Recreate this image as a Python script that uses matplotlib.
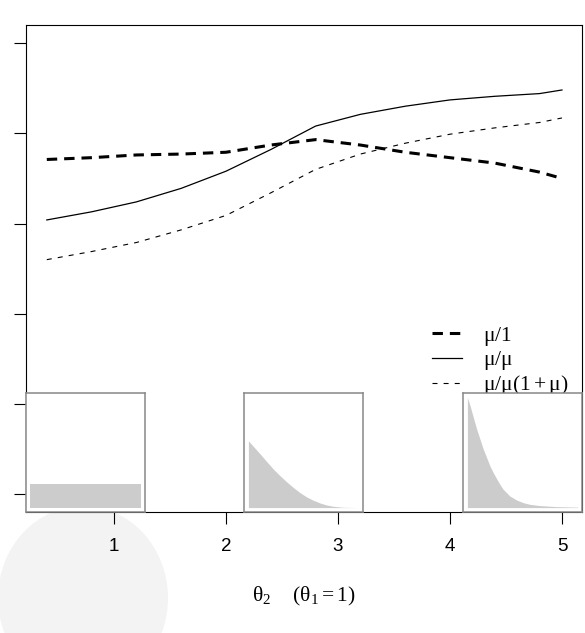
import matplotlib
matplotlib.use("Agg")
import matplotlib.pyplot as plt
from matplotlib.lines import Line2D
from matplotlib.patches import Circle

# ---------------- data ----------------
theta2 = [0.4, 0.8, 1.2, 1.6, 2.0, 2.4, 2.8, 3.2, 3.6, 4.0, 4.4, 4.8, 5.0]
mu_over_1 = [3.71, 3.73, 3.76, 3.77, 3.79, 3.87, 3.93, 3.87, 3.79, 3.73, 3.67, 3.57, 3.50]
mu_over_mu = [3.04, 3.13, 3.24, 3.39, 3.58, 3.82, 4.08, 4.21, 4.30, 4.37, 4.41, 4.44, 4.48]
mu_over_mu1mu = [2.60, 2.69, 2.79, 2.93, 3.09, 3.34, 3.60, 3.77, 3.89, 3.99, 4.06, 4.12, 4.17]

labels = [r'$\mu/1$', r'$\mu/\mu$', r'$\mu/\mu(1+\mu)$']
xticks = [1, 2, 3, 4, 5]
yticks = [0, 1, 2, 3, 4, 5]

# inset densities (normalised support 0..1)
inset1_t = [0.0, 1.0]
inset1_h = [0.21, 0.21]
inset2_t = [0.0, 0.048, 0.108, 0.168, 0.228, 0.288, 0.348, 0.408, 0.468, 0.528,
            0.588, 0.649, 0.708, 0.768, 0.859, 0.949, 1.0]
inset2_h = [0.606, 0.552, 0.485, 0.415, 0.348, 0.288, 0.233, 0.182, 0.136, 0.097,
            0.067, 0.042, 0.024, 0.012, 0.003, 0.001, 0.0]
inset3_t = [0.0, 0.024, 0.054, 0.084, 0.114, 0.144, 0.174, 0.204, 0.234, 0.264,
            0.294, 0.324, 0.384, 0.444, 0.505, 0.565, 0.649, 0.802, 1.0]
inset3_h = [1.0, 0.925, 0.818, 0.712, 0.621, 0.53, 0.455, 0.379, 0.318, 0.264,
            0.212, 0.167, 0.106, 0.07, 0.045, 0.03, 0.019, 0.009, 0.004]

# ---------------- style ----------------
plt.rcParams['lines.scale_dashes'] = False
plt.rcParams['mathtext.fontset'] = 'custom'
plt.rcParams['mathtext.rm'] = 'Liberation Serif'
plt.rcParams['mathtext.it'] = 'Liberation Serif'
plt.rcParams['mathtext.bf'] = 'Liberation Serif:bold'
plt.rcParams['font.family'] = ['Liberation Sans', 'DejaVu Sans']

W, H = 585, 633
fig = plt.figure(figsize=(W / 100, H / 100), dpi=100)

def px_rect(x0, y0, x1, y1):
    return [x0 / W, 1 - y1 / H, (x1 - x0) / W, (y1 - y0) / H]

# faint watermark, behind everything
fig.patches.append(Circle((83 / W, 1 - 598 / H), 85 / W, transform=fig.transFigure,
                          facecolor='#f3f3f3', edgecolor='none', zorder=-5))

ax = fig.add_axes(px_rect(26, 25, 582, 512))
ax.patch.set_alpha(0)
ax.plot(theta2, mu_over_1, color='black', lw=2.2, linestyle=(0, (7.5, 5.0)))
ax.plot(theta2, mu_over_mu, color='black', lw=0.9, linestyle='-')
ax.plot(theta2, mu_over_mu1mu, color='black', lw=0.8, linestyle=(0, (3.6, 4.4)))

ax.set_xlim(0.2143, 5.179)
ax.set_ylim(-0.196, 5.2)
ax.set_xticks(xticks)
ax.set_xticklabels([str(v) for v in xticks])
ax.set_yticks(yticks)
ax.set_yticklabels([])
ax.tick_params(axis='both', length=8.5, width=0.8, color='black')
ax.tick_params(axis='x', labelsize=13.5, pad=10)
for s in ax.spines.values():
    s.set_linewidth(0.8)
    s.set_color('black')

ax.set_xlabel(r'$\theta_2\quad\ (\theta_1 = 1)$', fontsize=15.5)
ax.xaxis.set_label_coords(0.5, (512 - 596) / 487)
ax.xaxis.label.set_va('center')

handles = [Line2D([], [], color='black', lw=2.2, linestyle=(0, (7.5, 5.0))),
           Line2D([], [], color='black', lw=0.9, linestyle='-'),
           Line2D([], [], color='black', lw=0.8, linestyle=(0, (3.6, 4.4)))]
leg = ax.legend(handles, labels, loc='upper left',
                bbox_to_anchor=(432 / W, 1 - 325 / H), bbox_transform=fig.transFigure,
                frameon=False, fontsize=15.5, handlelength=1.4, handletextpad=0.95,
                labelspacing=0.05, borderpad=0, borderaxespad=0)

# insets
def add_inset(x0, x1, t, h):
    ia = fig.add_axes(px_rect(x0, 393, x1, 512))
    ia.fill_between(t, 0, h, color='#cccccc', linewidth=0)
    ia.set_xlim(-0.04, 1.04)
    ia.set_ylim(-0.04, 1.04)
    ia.set_xticks([])
    ia.set_yticks([])
    for s in ia.spines.values():
        s.set_color('#888888')
        s.set_linewidth(1.1)
    return ia

add_inset(26, 145, inset1_t, inset1_h)
add_inset(244, 363, inset2_t, inset2_h)
add_inset(463, 582, inset3_t, inset3_h)

fig.savefig('out.png', dpi=100)
